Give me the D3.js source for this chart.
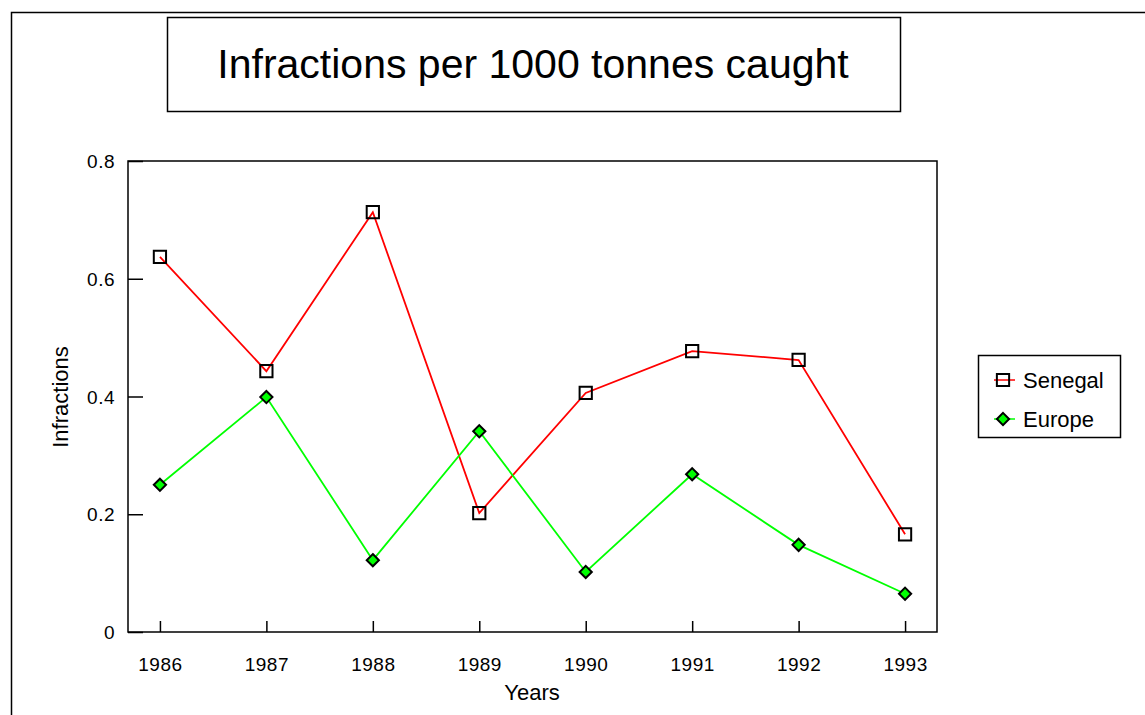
<!DOCTYPE html>
<meta charset="UTF-8">
<style>
body { margin: 0; background: #fff; }
text { font-family: "Liberation Sans", Arial, sans-serif; fill: #000; }
</style>
<body>
<script src="https://d3js.org/d3.v7.min.js"></script>
<script>
// chart values
var years = [1986, 1987, 1988, 1989, 1990, 1991, 1992, 1993];
var senegal = [0.637, 0.443, 0.713, 0.202, 0.406, 0.477, 0.462, 0.166];
var europe = [0.25, 0.399, 0.122, 0.341, 0.102, 0.268, 0.148, 0.065];
var yTicks = [0, 0.2, 0.4, 0.6, 0.8];

var W = 1145, H = 715;
var plot = {left: 128, top: 161, right: 937, bottom: 632};

var svg = d3.select("body").append("svg")
    .attr("width", W)
    .attr("height", H);

// outer frame (runs off the right and bottom edge)
svg.append("rect")
    .attr("x", 11.5).attr("y", 12.5)
    .attr("width", W + 20).attr("height", H + 20)
    .attr("fill", "none").attr("stroke", "#000").attr("stroke-width", 1.5);

// title box
svg.append("rect")
    .attr("x", 167.5).attr("y", 17.5)
    .attr("width", 733).attr("height", 94)
    .attr("fill", "#fff").attr("stroke", "#000").attr("stroke-width", 1.5);
svg.append("text")
    .attr("x", 533).attr("y", 78)
    .attr("text-anchor", "middle")
    .style("font-size", "41px")
    .text("Infractions per 1000 tonnes caught");

var x = d3.scaleLinear().domain([1985.7, 1993.3]).range([plot.left, plot.right]);
var y = d3.scaleLinear().domain([0, 0.8]).range([plot.bottom, plot.top]);

// plot frame
svg.append("rect")
    .attr("x", plot.left).attr("y", plot.top)
    .attr("width", plot.right - plot.left).attr("height", plot.bottom - plot.top)
    .attr("fill", "none").attr("stroke", "#000").attr("stroke-width", 1.5);

// y axis: ticks point inward
var yAxis = svg.append("g")
    .attr("transform", "translate(" + plot.left + ",0)")
    .call(d3.axisRight(y).tickValues(yTicks).tickSize(15).tickFormat(function(d) { return d === 0 ? "0" : d3.format(".1f")(d); }));
yAxis.select(".domain").remove();
yAxis.selectAll("line").attr("stroke-width", 1.5);
yAxis.selectAll("text")
    .attr("x", -13).attr("dy", "0.35em")
    .attr("text-anchor", "end")
    .style("font-size", "19px")
    .style("letter-spacing", "0.5px");

// x axis: ticks point upward
var xAxis = svg.append("g")
    .attr("transform", "translate(0," + plot.bottom + ")")
    .call(d3.axisTop(x).tickValues(years).tickSize(11).tickFormat(d3.format("d")));
xAxis.select(".domain").remove();
xAxis.selectAll("line").attr("stroke-width", 1.5);
xAxis.selectAll("text")
    .attr("y", 39).attr("dy", 0)
    .style("font-size", "19px")
    .style("letter-spacing", "0.5px");

// axis titles
svg.append("text")
    .attr("x", 532).attr("y", 700)
    .attr("text-anchor", "middle")
    .style("font-size", "22px")
    .text("Years");
svg.append("text")
    .attr("transform", "translate(68,397) rotate(-90)")
    .attr("text-anchor", "middle")
    .style("font-size", "22px")
    .text("Infractions");

var line = d3.line()
    .x(function(d, i) { return x(years[i]); })
    .y(function(d) { return y(d); });

svg.append("path").datum(senegal)
    .attr("d", line)
    .attr("fill", "none").attr("stroke", "#ff0000").attr("stroke-width", 1.8);
svg.append("path").datum(europe)
    .attr("d", line)
    .attr("fill", "none").attr("stroke", "#00ff00").attr("stroke-width", 1.8);

var sq = d3.symbol().type(d3.symbolSquare).size(150);
var dia = d3.symbol().type(d3.symbolDiamond2).size(95);

svg.selectAll("path.sen").data(senegal).enter().append("path")
    .attr("class", "sen")
    .attr("d", sq)
    .attr("transform", function(d, i) { return "translate(" + x(years[i]) + "," + y(d) + ")"; })
    .attr("fill", "none").attr("stroke", "#000").attr("stroke-width", 2);

svg.selectAll("path.eur").data(europe).enter().append("path")
    .attr("class", "eur")
    .attr("d", dia)
    .attr("transform", function(d, i) { return "translate(" + x(years[i]) + "," + y(d) + ")"; })
    .attr("fill", "#00ff00").attr("stroke", "#000").attr("stroke-width", 2);

// legend
var legend = svg.append("g");
legend.append("rect")
    .attr("x", 978.5).attr("y", 355.5)
    .attr("width", 142).attr("height", 82)
    .attr("fill", "#fff").attr("stroke", "#000").attr("stroke-width", 1.5);
var items = [
  {name: "Senegal", color: "#ff0000", sym: sq, fill: "none", y: 380},
  {name: "Europe", color: "#00ff00", sym: dia, fill: "#00ff00", y: 419}
];
items.forEach(function(it) {
  legend.append("line")
      .attr("x1", 994).attr("x2", 1015)
      .attr("y1", it.y).attr("y2", it.y)
      .attr("stroke", it.color).attr("stroke-width", 1.5);
  legend.append("path")
      .attr("d", it.sym)
      .attr("transform", "translate(1003," + it.y + ")")
      .attr("fill", it.fill).attr("stroke", "#000").attr("stroke-width", 2);
  legend.append("text")
      .attr("x", 1023).attr("y", it.y + 8)
      .style("font-size", "22px")
      .text(it.name);
});
</script>
</body>
